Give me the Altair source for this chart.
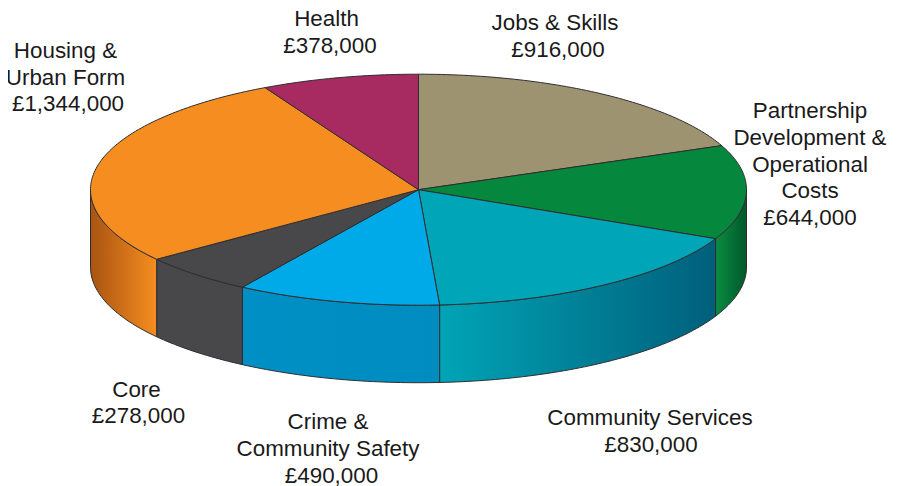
import math
import altair as alt
import pandas as pd

names = ["Jobs & Skills", "Partnership Development & Operational Costs", "Community Services",
         "Crime & Community Safety", "Core", "Housing & Urban Form", "Health"]
values = [916000, 644000, 830000, 490000, 278000, 1344000, 378000]
top_colors = ["#9e9370", "#05873d", "#00a5b8", "#00aae8", "#48484a", "#f68d20", "#a72a60"]

name_lines = [
    "Jobs & Skills",
    "Partnership\nDevelopment &\nOperational\nCosts",
    "Community Services",
    "Crime &\nCommunity Safety",
    "Core",
    "Housing &\nUrban Form",
    "Health",
]
amounts = ["£916,000", "£644,000", "£830,000", "£490,000", "£278,000", "£1,344,000", "£378,000"]
name_x = [555, 810, 650, 328, 136.5, 65.5, 326.5]
name_y = [23, 111, 418, 422, 390, 51, 19]
amount_x = [558, 810, 651, 331.5, 138.5, 68, 330]
amount_y = [50, 218, 445, 476, 416, 104, 46]

wall_gradients = {
    1: ("#0a8c42", "#00582a"),
    2: ("#00a4b6", "#005f7b"),
    3: ("#0090c5", "#008cbf"),
    4: ("#48484a", "#48484a"),
    5: ("#a95412", "#f68d20"),
}

TILT = 115.5 / 328
DEPTH = 77.5 / 328
STROKE = "#2e2e30"


def rim(a0, a1, drop=0.0):
    n = max(2, int(abs(a1 - a0)) + 2)
    out = []
    for i in range(n):
        a = math.radians(a0 + (a1 - a0) * i / (n - 1))
        out.append([math.sin(a), math.cos(a) * TILT - drop])
    return out


def feature(ring, name):
    return {"type": "Feature", "properties": {"name": name},
            "geometry": {"type": "Polygon", "coordinates": [ring + [ring[0]]]}}


total = sum(values)
edges = [0.0]
for v in values:
    edges.append(edges[-1] + v / total * 360)

proj = dict(type="identity", scale=328, translate=[410.5, 181.7], reflectY=True)
layers = []

# side walls (only the front half of the rim shows)
for i, (c0, c1) in wall_gradients.items():
    a0 = max(edges[i], 90)
    a1 = min(edges[i + 1], 270)
    ring = rim(a0, a1) + rim(a1, a0, DEPTH)
    layers.append(
        alt.Chart(alt.Data(values=[feature(ring, names[i])]))
        .mark_geoshape(
            fill=alt.LinearGradient(
                gradient="linear", x1=0, y1=0, x2=1, y2=0,
                stops=[alt.GradientStop(color=c0, offset=0), alt.GradientStop(color=c1, offset=1)],
            ),
            stroke=STROKE, strokeWidth=1,
        )
        .project(**proj)
    )

# top face
tops = [feature([[0, 0]] + rim(edges[i], edges[i + 1]), names[i]) for i in range(len(values))]
layers.append(
    alt.Chart(alt.Data(values=tops))
    .mark_geoshape(stroke=STROKE, strokeWidth=1)
    .encode(color=alt.Color("properties.name:N",
                            scale=alt.Scale(domain=names, range=top_colors), legend=None))
    .project(**proj)
)

labels = pd.DataFrame({
    "label": name_lines + amounts,
    "lx": [x - 8 for x in name_x + amount_x],
    "ly": [y - 8 for y in name_y + amount_y],
})
layers.append(
    alt.Chart(labels)
    .mark_text(font="Liberation Sans", fontSize=22.4, lineHeight=26.8, lineBreak="\n",
               align="center", baseline="middle", color="#1a1a1a")
    .encode(x=alt.X("lx:Q", scale=None), y=alt.Y("ly:Q", scale=None), text="label:N")
)

chart = (
    alt.layer(*layers)
    .properties(width=882, height=478, padding=0, autosize=alt.AutoSizeParams(type="none"))
    .configure_view(stroke=None)
)
chart.save("out.html", embed_options={"renderer": "svg", "actions": False})
